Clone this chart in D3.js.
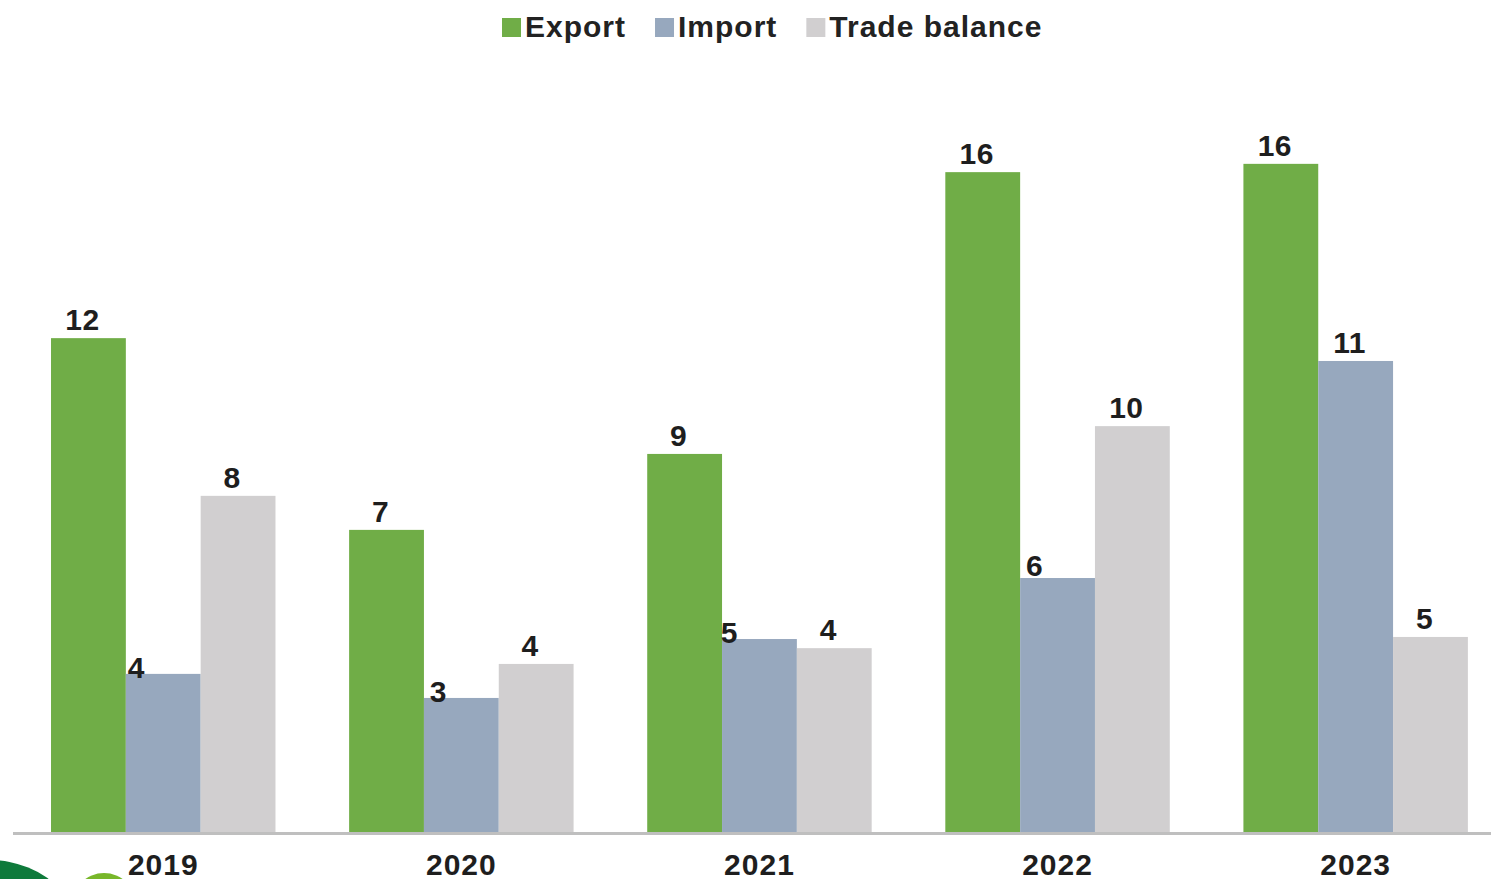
<!DOCTYPE html>
<html>
<head>
<meta charset="utf-8">
<script src="https://cdn.jsdelivr.net/npm/d3@7"></script>
<style>
  html, body { margin: 0; padding: 0; background: #ffffff; }
  svg { display: block; }
  text { font-family: "Liberation Sans", Arial, sans-serif; }
</style>
</head>
<body>
<svg id="chart" width="1491" height="879"></svg>
<script>
// ---- data ----
const years = ["2019", "2020", "2021", "2022", "2023"];
const seriesNames = ["Export", "Import", "Trade balance"];
const exportValues = [11.9, 7.28, 9.11, 15.9, 16.1];
const importValues = [3.81, 3.23, 4.65, 6.12, 11.35];
const balanceValues = [8.1, 4.05, 4.43, 9.78, 4.7];

// ---- styling ----
const colors = ["#70AD47", "#97A8BE", "#D1CFD0"];
// manual label nudges for the Import series (dx, dy in px), mirroring the original layout
const importLabelShift = [[-21, 12], [-17, 12], [-24, 12], [-17, 6], [0, 0]];

const W = 1491, H = 879;
const baseY = 832;
const svg = d3.select("#chart");

// decorative shapes bottom-left
svg.append("circle").attr("cx", -10).attr("cy", 960).attr("r", 100).attr("fill", "#0E7A3B");
svg.append("circle").attr("cx", 104).attr("cy", 905).attr("r", 32).attr("fill", "#78B72A");

const x = d3.scaleBand().domain(years).range([14.2, 1504.7]).paddingInner(0.247).paddingOuter(0.1235);
const xs = d3.scaleBand().domain(seriesNames).range([0, x.bandwidth()]).padding(0);
const y = d3.scaleLinear().domain([0, 20]).range([baseY, baseY - 20 * 41.5]);

const allValues = [exportValues, importValues, balanceValues];
const rows = [];
seriesNames.forEach((s, si) => {
  years.forEach((yr, i) => rows.push({ series: s, si, year: yr, i, value: allValues[si][i] }));
});

const g = svg.append("g");
g.selectAll("rect.bar").data(rows).join("rect")
  .attr("class", "bar")
  .attr("x", d => x(d.year) + xs(d.series))
  .attr("width", xs.bandwidth())
  .attr("y", d => y(d.value))
  .attr("height", d => y(0) - y(d.value))
  .attr("fill", d => colors[d.si]);

// axis baseline
const xAxis = d3.axisBottom(x).tickSize(0).tickPadding(21);
const ax = svg.append("g").attr("transform", `translate(0,${baseY + 1})`).call(xAxis);
ax.select(".domain").remove();
svg.append("line").attr("x1", 13).attr("x2", W).attr("y1", baseY + 1.5).attr("y2", baseY + 1.5)
  .attr("stroke", "#BFBFBF").attr("stroke-width", 3);
ax.selectAll("text")
  .attr("font-size", 30).attr("font-weight", "bold").attr("fill", "#1E1E1E")
  .attr("letter-spacing", 1)
  .attr("font-family", "Liberation Sans, Arial, sans-serif");

// data labels
const fmt = d3.format(".0f");
g.selectAll("text.lbl").data(rows).join("text")
  .attr("class", "lbl")
  .attr("x", d => {
    const cx = x(d.year) + xs(d.series) + xs.bandwidth() / 2 - 6;
    return d.si === 1 ? cx + importLabelShift[d.i][0] : cx;
  })
  .attr("y", d => {
    const by = y(d.value) - 8;
    return d.si === 1 ? by + importLabelShift[d.i][1] : by;
  })
  .attr("text-anchor", "middle")
  .attr("font-size", 30).attr("font-weight", "bold").attr("fill", "#1E1E1E")
  .attr("letter-spacing", 0.5)
  .text(d => fmt(d.value));

// legend
const lg = svg.append("g");
let lx = 502;
seriesNames.forEach((s, si) => {
  lg.append("rect").attr("x", lx).attr("y", 18).attr("width", 19).attr("height", 19).attr("fill", colors[si]);
  const t = lg.append("text").attr("x", lx + 23).attr("y", 37)
    .attr("font-size", 30).attr("font-weight", "bold").attr("fill", "#222")
    .attr("letter-spacing", 1).text(s);
  lx = lx + 23 + t.node().getComputedTextLength() + 29;
});
</script>
</body>
</html>
